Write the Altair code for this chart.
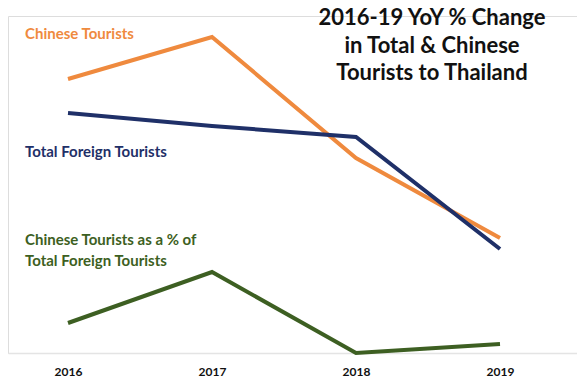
import altair as alt
import pandas as pd

years = [2016, 2017, 2018, 2019]
# relative index values (no y axis shown in reference)
chinese = [274, 316, 195, 115]
total_foreign = [240, 227, 216, 104]
share = [30, 81, 0, 9]

series_names = ["Chinese Tourists", "Total Foreign Tourists", "Chinese share"]
series_colors = ["#EF8A3E", "#1F3068", "#3D5F22"]

rows = []
for name, vals in zip(series_names, [chinese, total_foreign, share]):
    for y, v in zip(years, vals):
        rows.append({"year": y, "value": v, "series": name})
df = pd.DataFrame(rows)

W, H = 569, 337
x_scale = alt.Scale(domain=[2015.5833, 2019.5347], nice=False, zero=False)
y_scale = alt.Scale(domain=[0, 337], nice=False, zero=True)

lines = alt.Chart(df).mark_line(strokeWidth=4, strokeJoin="miter", strokeCap="butt").encode(
    x=alt.X("year:Q", scale=x_scale,
            axis=alt.Axis(values=years, format="d", title=None, ticks=False, grid=False,
                          domainColor="#e4e4e4", domainWidth=1.5,
                          labelFont="Lato", labelFontWeight="bold", labelFontSize=12,
                          labelColor="#111111", labelPadding=13)),
    y=alt.Y("value:Q", scale=y_scale, axis=None),
    color=alt.Color("series:N", scale=alt.Scale(domain=series_names, range=series_colors), legend=None),
    detail="series:N",
)

base_txt = alt.Chart(pd.DataFrame({"a": [0]}))

title = base_txt.mark_text(
    font="Lato", fontWeight="bold", fontSize=22, color="#111111",
    align="center", baseline="middle", lineBreak="\n", lineHeight=27.5,
).encode(
    x=alt.value(424), y=alt.value(2),
    text=alt.value("2016-19 YoY % Change\nin Total & Chinese\nTourists to Thailand"),
)

lab1 = base_txt.mark_text(font="Lato", fontWeight="bold", fontSize=15, color="#EF8A3E",
                          align="left", baseline="middle").encode(
    x=alt.value(17), y=alt.value(18), text=alt.value("Chinese Tourists"))
lab2 = base_txt.mark_text(font="Lato", fontWeight="bold", fontSize=15, color="#1F3068",
                          align="left", baseline="middle").encode(
    x=alt.value(17), y=alt.value(136), text=alt.value("Total Foreign Tourists"))
lab3 = base_txt.mark_text(font="Lato", fontWeight="bold", fontSize=15, color="#3D5F22",
                          align="left", baseline="middle", lineBreak="\n", lineHeight=21).encode(
    x=alt.value(17), y=alt.value(224),
    text=alt.value("Chinese Tourists as a % of\nTotal Foreign Tourists"))

chart = alt.layer(lines, title, lab1, lab2, lab3).properties(
    width=W, height=H,
    autosize=alt.AutoSizeParams(type="none"),
    padding={"left": 0, "top": 8, "right": 0, "bottom": 27},
).configure_view(stroke=None).configure(background="white")

chart.save("out.html", embed_options={"renderer": "svg", "actions": False})
